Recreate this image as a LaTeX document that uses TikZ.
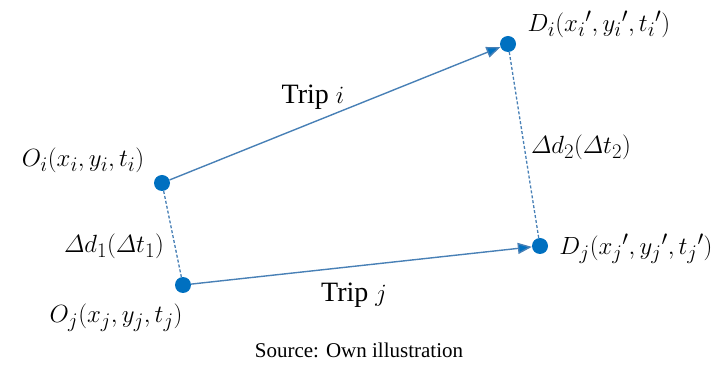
\documentclass[tikz,border=0pt]{standalone}
\usepackage{amsmath}
\usepackage{fontspec}
\setmainfont{Liberation Serif}
\usepackage{xcolor}
\usetikzlibrary{positioning,arrows.meta}
\definecolor{tripline}{RGB}{72,128,182}
\definecolor{tripdot}{RGB}{0,112,192}

\begin{document}
\begin{tikzpicture}[
  x=1pt, y=-1pt,
  font=\fontsize{28}{32}\selectfont,
  pt/.style={circle, fill=tripdot, inner sep=0pt, minimum size=16pt},
  lbl/.style={inner sep=1pt},
  trip/.style={-{Triangle[length=14pt, width=11pt, fill=tripdot]}, draw=tripline, line width=1.4pt},
  gap/.style={draw=tripline, dash pattern=on 3pt off 2pt, line width=1.3pt}]

\useasboundingbox (0,0) rectangle (721,371);

\node[pt] (oi) at (162,183) {};
\node[pt] (di) at (508,44) {};
\node[pt] (oj) at (183,285) {};
\node[pt] (dj) at (540,246) {};

\node[lbl] (oil) at (83,160) {$O_i(x_i,y_i,t_i)$};
\node[lbl] (dil) at (599,24) {$D_i(x_i{}',y_i{}',t_i{}')$};
\node[lbl] (ojl) at (116,318) {$O_j(x_j,y_j,t_j)$};
\node[lbl] (djl) at (636,249) {$D_j(x_j{}',y_j{}',t_j{}')$};

\node[lbl] (tripi) at (313,97) {Trip $i$};
\node[lbl] (tripj) at (354,295) {Trip $j$};
\node[lbl] (gap1) at (114,246) {$\varDelta d_1(\varDelta t_1)$};
\node[lbl] (gap2) at (581,147) {$\varDelta d_2(\varDelta t_2)$};

\node[lbl, font=\fontsize{21}{25}\selectfont] (src) at (359,350) {Source: Own illustration};

\draw[trip] (oi) -- (di);
\draw[trip] (oj) -- (dj);
\draw[gap] (oi) -- (oj);
\draw[gap] (di) -- (dj);
\end{tikzpicture}
\end{document}
